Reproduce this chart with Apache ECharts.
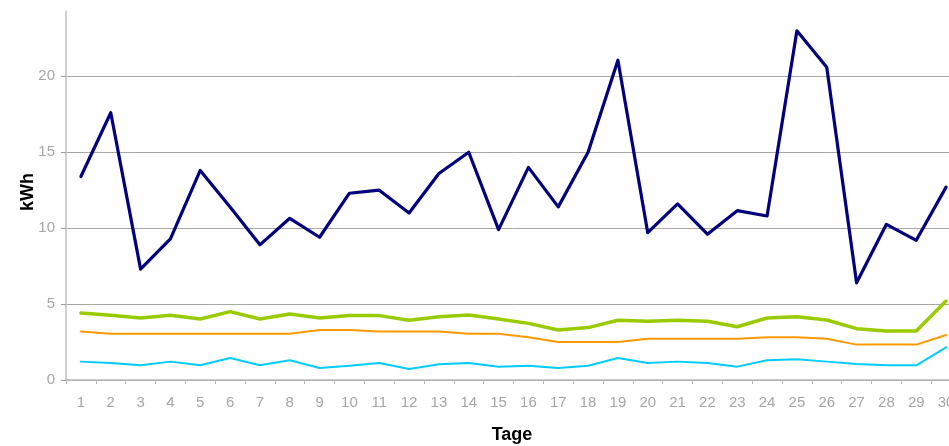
<!DOCTYPE html>
<html>
<head>
<meta charset="utf-8">
<script src="https://cdn.jsdelivr.net/npm/echarts@6/dist/echarts.min.js"></script>
<style>html,body{margin:0;padding:0;background:#fff;overflow:hidden;width:949px;height:446px;}#c{width:961px;height:446px;}</style>
</head>
<body>
<div id="c"></div>
<script>
const days = ['1','2','3','4','5','6','7','8','9','10','11','12','13','14','15','16','17','18','19','20','21','22','23','24','25','26','27','28','29','30'];
const navySeries = [13.4,17.6,7.3,9.3,13.8,11.4,8.9,10.65,9.4,12.3,12.5,11.0,13.6,15.0,9.9,14.0,11.4,15.0,21.06,9.7,11.6,9.6,11.15,10.8,23.0,20.6,6.4,10.25,9.2,12.7];
const greenSeries = [4.41,4.26,4.08,4.26,4.02,4.5,4.02,4.35,4.08,4.24,4.24,3.93,4.17,4.28,4.02,3.73,3.29,3.45,3.93,3.87,3.93,3.87,3.51,4.08,4.17,3.95,3.38,3.23,3.23,5.2];
const orangeSeries = [3.2,3.05,3.05,3.05,3.05,3.05,3.05,3.05,3.29,3.29,3.2,3.2,3.2,3.05,3.05,2.81,2.5,2.5,2.5,2.72,2.72,2.72,2.72,2.81,2.81,2.72,2.33,2.33,2.33,2.96];
const cyanSeries = [1.21,1.12,0.97,1.21,0.97,1.45,0.97,1.3,0.79,0.94,1.12,0.72,1.03,1.12,0.88,0.94,0.79,0.94,1.45,1.12,1.21,1.12,0.88,1.3,1.36,1.21,1.05,0.97,0.97,2.15];
const yTicks = [0,5,10,15,20];

const font = 'Liberation Sans, Arial, sans-serif';
const chart = echarts.init(document.getElementById('c'), null, {renderer:'canvas', width:961, height:446});
function lineSeries(name, data, color, width){
  return {name, type:'line', data, symbol:'none', smooth:false,
    lineStyle:{color, width, cap:'round', join:'round'}, itemStyle:{color}, animation:false};
}
chart.setOption({
  animation:false,
  backgroundColor:'#fff',
  grid:{left:66, top:11, right:0, bottom:66, outerBoundsMode:'none', containLabel:false},
  xAxis:{type:'category', data:days, boundaryGap:true,
    axisLine:{show:true, lineStyle:{color:'#b8b8b8', width:1.5}},
    axisTick:{show:true, length:4, lineStyle:{color:'#b8b8b8'}},
    axisLabel:{color:'#a6a6a6', fontSize:15, fontFamily:font, margin:15, interval:0},
    splitLine:{show:false}},
  yAxis:{type:'value', min:0, max:24.3, interval:5,
    axisLine:{show:true, lineStyle:{color:'#c0c0c0', width:1.5}},
    axisTick:{show:true, length:5, lineStyle:{color:'#a0a0a0'}},
    axisLabel:{color:'#a6a6a6', fontSize:15, fontFamily:font, margin:11, showMaxLabel:false,
      formatter:v => yTicks.indexOf(v) >= 0 ? String(v) : ''},
    splitLine:{show:true, showMaxLine:false, lineStyle:{color:'#a8a8a8', width:1}}},
  graphic:[
    {type:'text', style:{text:'kWh', font:'bold 18px ' + font, fill:'#000', textAlign:'center', textVerticalAlign:'middle'},
      x:28, y:192, rotation:Math.PI/2},
    {type:'text', style:{text:'Tage', font:'bold 18px ' + font, fill:'#000', textAlign:'center', textVerticalAlign:'middle'},
      x:512, y:435}
  ],
  series:[
    lineSeries('Gesamt', navySeries, '#000080', 3.2),
    lineSeries('Grün', greenSeries, '#99cc00', 3.5),
    lineSeries('Orange', orangeSeries, '#ff9900', 2),
    lineSeries('Cyan', cyanSeries, '#00ccff', 2)
  ]
});
</script>
</body>
</html>
